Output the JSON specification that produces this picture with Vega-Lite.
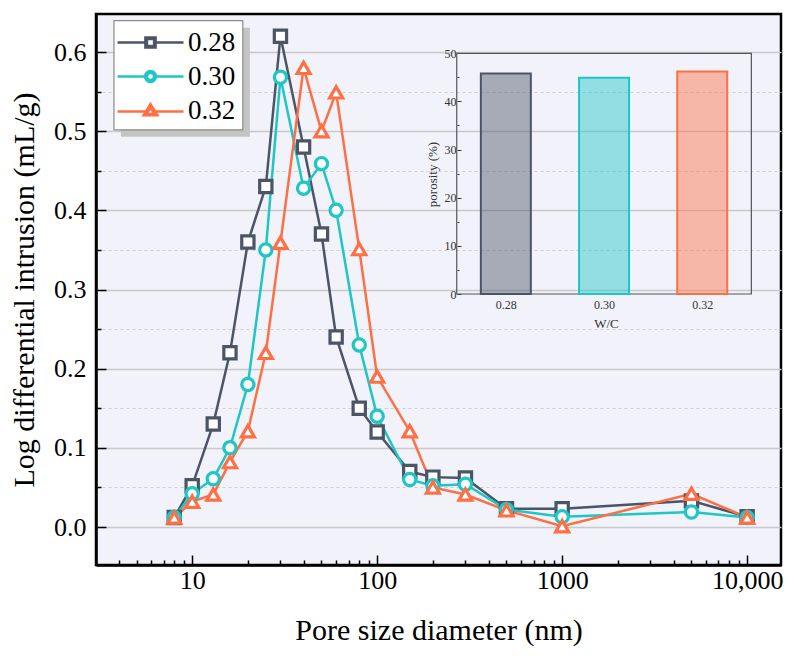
{
  "$schema": "https://vega.github.io/schema/vega-lite/v6.json",
  "width": 685,
  "height": 551,
  "autosize": "none",
  "padding": {"left": 96, "top": 14, "right": 13, "bottom": 93},
  "background": "white",
  "config": {
    "font": "Liberation Serif",
    "view": {"fill": "#f1f2fa", "stroke": "black", "strokeWidth": 2.5},
    "axis": {
      "labelFont": "Liberation Serif",
      "titleFont": "Liberation Serif",
      "labelColor": "black",
      "titleColor": "black",
      "titleFontWeight": "normal"
    },
    "legend": {
      "labelFont": "Liberation Serif"
    }
  },
  "datasets": {
    "pore": [
      {"size": 8, "wc": "0.28", "value": 0.012},
      {"size": 10, "wc": "0.28", "value": 0.052},
      {"size": 13, "wc": "0.28", "value": 0.13},
      {"size": 16, "wc": "0.28", "value": 0.22},
      {"size": 20, "wc": "0.28", "value": 0.36},
      {"size": 25, "wc": "0.28", "value": 0.43},
      {"size": 30, "wc": "0.28", "value": 0.62},
      {"size": 40, "wc": "0.28", "value": 0.48},
      {"size": 50, "wc": "0.28", "value": 0.37},
      {"size": 60, "wc": "0.28", "value": 0.24},
      {"size": 80, "wc": "0.28", "value": 0.15},
      {"size": 100, "wc": "0.28", "value": 0.12},
      {"size": 150, "wc": "0.28", "value": 0.07},
      {"size": 200, "wc": "0.28", "value": 0.063},
      {"size": 300, "wc": "0.28", "value": 0.062},
      {"size": 500, "wc": "0.28", "value": 0.023},
      {"size": 1000, "wc": "0.28", "value": 0.023},
      {"size": 5000, "wc": "0.28", "value": 0.033},
      {"size": 10000, "wc": "0.28", "value": 0.013},
      {"size": 8, "wc": "0.30", "value": 0.012},
      {"size": 10, "wc": "0.30", "value": 0.042},
      {"size": 13, "wc": "0.30", "value": 0.061},
      {"size": 16, "wc": "0.30", "value": 0.1},
      {"size": 20, "wc": "0.30", "value": 0.18},
      {"size": 25, "wc": "0.30", "value": 0.35},
      {"size": 30, "wc": "0.30", "value": 0.568},
      {"size": 40, "wc": "0.30", "value": 0.428},
      {"size": 50, "wc": "0.30", "value": 0.459},
      {"size": 60, "wc": "0.30", "value": 0.4},
      {"size": 80, "wc": "0.30", "value": 0.23},
      {"size": 100, "wc": "0.30", "value": 0.14},
      {"size": 150, "wc": "0.30", "value": 0.06},
      {"size": 200, "wc": "0.30", "value": 0.052},
      {"size": 300, "wc": "0.30", "value": 0.054},
      {"size": 500, "wc": "0.30", "value": 0.022},
      {"size": 1000, "wc": "0.30", "value": 0.013},
      {"size": 5000, "wc": "0.30", "value": 0.019},
      {"size": 10000, "wc": "0.30", "value": 0.012},
      {"size": 8, "wc": "0.32", "value": 0.012},
      {"size": 10, "wc": "0.32", "value": 0.032},
      {"size": 13, "wc": "0.32", "value": 0.041},
      {"size": 16, "wc": "0.32", "value": 0.082},
      {"size": 20, "wc": "0.32", "value": 0.121},
      {"size": 25, "wc": "0.32", "value": 0.22},
      {"size": 30, "wc": "0.32", "value": 0.359},
      {"size": 40, "wc": "0.32", "value": 0.58},
      {"size": 50, "wc": "0.32", "value": 0.5},
      {"size": 60, "wc": "0.32", "value": 0.549},
      {"size": 80, "wc": "0.32", "value": 0.351},
      {"size": 100, "wc": "0.32", "value": 0.19},
      {"size": 150, "wc": "0.32", "value": 0.121},
      {"size": 200, "wc": "0.32", "value": 0.05},
      {"size": 300, "wc": "0.32", "value": 0.041},
      {"size": 500, "wc": "0.32", "value": 0.021},
      {"size": 1000, "wc": "0.32", "value": 0.001},
      {"size": 5000, "wc": "0.32", "value": 0.042},
      {"size": 10000, "wc": "0.32", "value": 0.012}
    ],
    "porosity": [
      {"wc": 0.28, "label": "0.28", "porosity": 45.8},
      {"wc": 0.30, "label": "0.30", "porosity": 44.9},
      {"wc": 0.32, "label": "0.32", "porosity": 46.2}
    ]
  },
  "layer": [
    {
      "layer": [
        {
          "data": {"values": [{"box": "shadow"}]},
          "mark": {"type": "rect", "fill": "#c4c4c4"},
          "encoding": {
            "x": {"datum": 4.12, "type": "quantitative"},
            "x2": {"datum": 20.5},
            "y": {"datum": 0.6307, "type": "quantitative"},
            "y2": {"datum": 0.4929}
          }
        },
        {
          "data": {"values": [{"box": "legend"}]},
          "mark": {"type": "rect", "fill": "white", "stroke": "#8a8a8a", "strokeWidth": 1.2},
          "encoding": {
            "x": {"datum": 3.777, "type": "quantitative"},
            "x2": {"datum": 18.78},
            "y": {"datum": 0.6396, "type": "quantitative"},
            "y2": {"datum": 0.5017}
          }
        },
        {
          "data": {"name": "pore"},
          "mark": {"type": "line", "strokeWidth": 2.5},
          "encoding": {
            "x": {"field": "size", "type": "quantitative"},
            "y": {"field": "value", "type": "quantitative"},
            "stroke": {
              "field": "wc",
              "type": "nominal",
              "scale": {"domain": ["0.28", "0.30", "0.32"], "range": ["#4b5566", "#1fc6c6", "#fe6f45"]},
              "legend": {
                "title": null,
                "orient": "none",
                "legendX": 18,
                "legendY": 7,
                "fillColor": null,
                "strokeColor": null,
                "padding": 8,
                "symbolSize": 144,
                "symbolStrokeWidth": 2.5,
                "symbolFillColor": "white",
                "symbolOpacity": 1,
                "symbolOffset": 15,
                "labelOffset": 24,
                "labelFont": "Liberation Serif",
                "labelFontSize": 27,
                "labelColor": "black",
                "rowPadding": 6
              }
            }
          }
        },
        {
          "data": {"name": "pore"},
          "transform": [{"filter": "datum.wc == '0.28'"}],
          "mark": {"type": "point", "shape": "square", "filled": false, "fill": "white", "fillOpacity": 1, "opacity": 1, "strokeWidth": 3.2, "size": 150},
          "encoding": {
            "x": {"field": "size", "type": "quantitative"},
            "y": {"field": "value", "type": "quantitative"},
            "stroke": {"field": "wc", "type": "nominal"}
          }
        },
        {
          "data": {"name": "pore"},
          "transform": [{"filter": "datum.wc == '0.30'"}],
          "mark": {"type": "point", "shape": "circle", "filled": false, "fill": "white", "fillOpacity": 1, "opacity": 1, "strokeWidth": 3.2, "size": 150},
          "encoding": {
            "x": {"field": "size", "type": "quantitative"},
            "y": {"field": "value", "type": "quantitative"},
            "stroke": {"field": "wc", "type": "nominal"}
          }
        },
        {
          "data": {"name": "pore"},
          "transform": [{"filter": "datum.wc == '0.32'"}],
          "mark": {"type": "point", "shape": "triangle-up", "filled": false, "fill": "white", "fillOpacity": 1, "opacity": 1, "strokeWidth": 3.2, "size": 170},
          "encoding": {
            "x": {"field": "size", "type": "quantitative"},
            "y": {"field": "value", "type": "quantitative"},
            "stroke": {"field": "wc", "type": "nominal"}
          }
        },
        {
          "data": {"name": "pore"},
          "transform": [{"filter": "false"}],
          "mark": {"type": "point", "filled": false, "fill": "white", "strokeWidth": 2.5},
          "encoding": {
            "x": {"field": "size", "type": "quantitative"},
            "y": {"field": "value", "type": "quantitative"},
            "stroke": {"field": "wc", "type": "nominal"},
            "shape": {
              "field": "wc",
              "type": "nominal",
              "scale": {
                "domain": ["0.28", "0.30", "0.32"],
                "range": [
                  "M-5.5,0H-0.85M0.85,0H5.5M-0.85,-0.85H0.85V0.85H-0.85ZM-0.6,-0.6V0.6H0.6V-0.6Z",
                  "M-5.5,0H-0.9M0.9,0H5.5M0.9,0A0.9,0.9,0,1,1,-0.9,0A0.9,0.9,0,1,1,0.9,0ZM0.6,0A0.6,0.6,0,1,0,-0.6,0A0.6,0.6,0,1,0,0.6,0Z",
                  "M-5.5,0.15H-0.75M0.75,0.15H5.5M0,-1.05L1.15,0.8H-1.15ZM0,-0.4L-0.7,0.6H0.7Z"
                ]
              }
            }
          }
        }
      ],
      "encoding": {
        "x": {
          "type": "quantitative",
          "scale": {"type": "log", "domain": [3.02, 15240], "nice": false},
          "axis": {
            "title": "Pore size diameter (nm)",
            "titleFontSize": 30,
            "titlePadding": 22,
            "labelFontSize": 26,
            "labelPadding": 12,
            "grid": false,
            "domainColor": "black",
            "domainWidth": 2.5,
            "tickColor": "black",
            "tickWidth": 1.5,
            "values": [4, 5, 6, 7, 8, 9, 10, 20, 30, 40, 50, 60, 70, 80, 90, 100, 200, 300, 400, 500, 600, 700, 800, 900, 1000, 2000, 3000, 4000, 5000, 6000, 7000, 8000, 9000, 10000],
            "labelExpr": "datum.value == 10000 ? '10,000' : (datum.value == 10 || datum.value == 100 || datum.value == 1000 ? '' + datum.value : '')",
            "tickSize": {"condition": {"test": "datum.value == 10 || datum.value == 100 || datum.value == 1000 || datum.value == 10000", "value": -10}, "value": -5}
          }
        },
        "y": {
          "type": "quantitative",
          "scale": {"domain": [-0.048, 0.648], "nice": false, "zero": false},
          "axis": {
            "title": "Log differential intrusion (mL/g)",
            "titleFontSize": 30,
            "titlePadding": 14,
            "labelFontSize": 26,
            "labelPadding": 20,
            "domainColor": "black",
            "domainWidth": 2.5,
            "tickColor": "black",
            "tickWidth": 1.5,
            "values": [0, 0.05, 0.1, 0.15, 0.2, 0.25, 0.3, 0.35, 0.4, 0.45, 0.5, 0.55, 0.6],
            "labelExpr": "round(datum.value * 100) % 10 == 0 ? format(datum.value, '.1f') : ''",
            "tickSize": {"condition": {"test": "round(datum.value * 100) % 10 == 0", "value": -10}, "value": -5},
            "grid": true,
            "gridColor": {"condition": {"test": "round(datum.value * 100) % 10 == 0", "value": "#c9c9c9"}, "value": "#cfcfcf"},
            "gridWidth": {"condition": {"test": "round(datum.value * 100) % 10 == 0", "value": 1.6}, "value": 1},
            "gridDash": {"condition": {"test": "round(datum.value * 100) % 10 == 0", "value": []}, "value": [3, 3]}
          }
        }
      }
    },
    {
      "layer": [
        {
          "data": {"values": [{}]},
          "mark": {"type": "rect", "fillOpacity": 0, "stroke": "#555555", "strokeWidth": 1.2},
          "encoding": {
            "x": {"datum": 0.27, "type": "quantitative"},
            "x2": {"datum": 0.33},
            "y": {"datum": 0, "type": "quantitative"},
            "y2": {"datum": 50}
          }
        },
        {
          "data": {"name": "porosity"},
          "mark": {"type": "bar", "width": 50, "strokeWidth": 2, "fillOpacity": 0.45},
          "encoding": {
            "x": {"field": "wc", "type": "quantitative"},
            "y": {"field": "porosity", "type": "quantitative"},
            "stroke": {"field": "label", "type": "nominal", "legend": null, "scale": {"domain": ["0.28", "0.30", "0.32"], "range": ["#4b5566", "#1fc6c6", "#fe6f45"]}},
            "fill": {"field": "label", "type": "nominal", "legend": null, "scale": {"domain": ["0.28", "0.30", "0.32"], "range": ["#4b5566", "#1fc6c6", "#fe6f45"]}}
          }
        }
      ],
      "encoding": {
        "x": {
          "type": "quantitative",
          "scale": {"domain": [0.19755, 0.33502], "nice": false, "zero": false},
          "axis": {
            "orient": "bottom",
            "offset": -271,
            "values": [0.28, 0.30, 0.32],
            "format": ".2f",
            "ticks": false,
            "domain": false,
            "grid": false,
            "labelFontSize": 12,
            "labelColor": "#333333",
            "labelPadding": 5,
            "title": "W/C",
            "titleFontSize": 13,
            "titleColor": "#333333",
            "titleX": 510,
            "titleY": 29,
            "titleBaseline": "middle",
            "titleAlign": "center"
          }
        },
        "y": {
          "type": "quantitative",
          "scale": {"domain": [-56.29, 58.16], "nice": false, "zero": false},
          "axis": {
            "orient": "left",
            "offset": -361,
            "values": [0, 5, 10, 15, 20, 25, 30, 35, 40, 45, 50],
            "labelExpr": "datum.value % 10 == 0 ? '' + datum.value : ''",
            "tickSize": {"condition": {"test": "datum.value % 10 == 0", "value": -4}, "value": -2},
            "tickColor": "#333333",
            "domain": false,
            "grid": false,
            "labelFontSize": 12,
            "labelColor": "#333333",
            "labelPadding": 5,
            "title": "porosity (%)",
            "titleFontSize": 13,
            "titleColor": "#333333",
            "titleX": -25,
            "titleY": 160,
            "titleBaseline": "middle",
            "titleAlign": "center"
          }
        }
      }
    }
  ],
  "resolve": {
    "scale": {"x": "independent", "y": "independent"},
    "axis": {"x": "independent", "y": "independent"}
  }
}
